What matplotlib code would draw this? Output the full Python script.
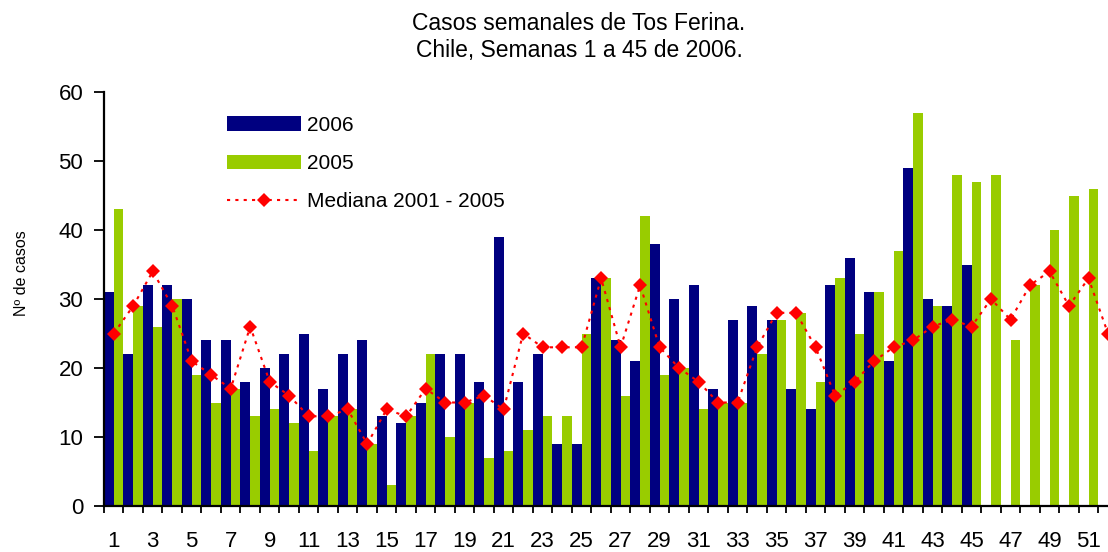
import matplotlib
matplotlib.use('Agg')
import matplotlib.pyplot as plt
from matplotlib.patches import Patch
from matplotlib.lines import Line2D
import numpy as np

plt.rcParams['font.family'] = ['Liberation Sans', 'DejaVu Sans']

# datos
semanas = list(range(1, 53))
casos_2006 = [31, 22, 32, 32, 30, 24, 24, 18, 20, 22, 25, 17, 22, 24, 13, 12, 15, 22, 22, 18,
              39, 18, 22, 9, 9, 33, 24, 21, 38, 30, 32, 17, 27, 29, 27, 17, 14, 32, 36, 31,
              21, 49, 30, 29, 35]
casos_2005 = [43, 29, 26, 30, 19, 15, 17, 13, 14, 12, 8, 13, 14, 9, 3, 13, 22, 10, 15, 7,
              8, 11, 13, 13, 25, 33, 16, 42, 19, 20, 14, 15, 15, 22, 27, 28, 18, 33, 25, 31,
              37, 57, 29, 48, 47, 48, 24, 32, 40, 45, 46]
mediana = [25, 29, 34, 29, 21, 19, 17, 26, 18, 16, 13, 13, 14, 9, 14, 13, 17, 15, 15, 16,
           14, 25, 23, 23, 23, 33, 23, 32, 23, 20, 18, 15, 15, 23, 28, 28, 23, 16, 18, 21,
           23, 24, 26, 27, 26, 30, 27, 32, 34, 29, 33, 25]
etiquetas_x = [str(s) for s in range(1, 52, 2)]

color_2006 = '#000080'
color_2005 = '#99CC00'
color_mediana = '#FF0000'

fig = plt.figure(figsize=(11.08, 5.52), dpi=100)
ax = fig.add_axes([104 / 1108, 1 - 506 / 552, 1 - 104 / 1108, (506 - 92) / 552])

x06 = np.arange(1, len(casos_2006) + 1)
x05 = np.arange(1, len(casos_2005) + 1)
ax.bar(x06 - 0.25, casos_2006, width=0.5, color=color_2006, linewidth=0)
ax.bar(x05 + 0.25, casos_2005, width=0.5, color=color_2005, linewidth=0)
ax.plot(semanas, mediana, color=color_mediana, linewidth=1.5, dashes=(1.5, 2.5),
        marker='D', markersize=7, markeredgewidth=0, zorder=3)

ax.set_xlim(0.5, 52.0)
ax.set_ylim(0, 60)
ax.set_yticks(range(0, 61, 10))
ax.tick_params(axis='y', direction='out', length=7, width=1.3, pad=8, labelsize=16)

# ticks en los limites de semana, etiquetas en el centro de semanas impares
ax.set_xticks(np.arange(0.5, 52.5, 1.0))
ax.set_xticklabels([])
ax.tick_params(axis='x', which='major', direction='out', length=5, width=1.3)
ax.set_xticks(range(1, 52, 2), minor=True)
ax.set_xticklabels(etiquetas_x, minor=True)
ax.tick_params(axis='x', which='minor', length=0, pad=18, labelsize=16)

for s in ['top', 'right']:
    ax.spines[s].set_visible(False)
ax.spines['left'].set_linewidth(1.6)
ax.spines['bottom'].set_linewidth(1.6)

fig.text(22 / 1108, 1 - 273 / 552, 'Nº de casos', rotation=90, ha='center', va='center',
         fontsize=11.5)
fig.text(579 / 1108, 1 - 23 / 552, 'Casos semanales de Tos Ferina.', ha='center',
         va='center', fontsize=16.5)
fig.text(579 / 1108, 1 - 51 / 552, 'Chile, Semanas 1 a 45 de 2006.', ha='center',
         va='center', fontsize=16.5)

handles = [Patch(color=color_2006, linewidth=0),
           Patch(color=color_2005, linewidth=0),
           Line2D([], [], color=color_mediana, linewidth=1.5, dashes=(1.5, 2.5),
                  marker='D', markersize=7, markeredgewidth=0)]
fig.legend(handles, ['2006', '2005', 'Mediana 2001 - 2005'], loc='upper left',
           bbox_to_anchor=(227 / 1108, 1 - 116 / 552), frameon=False, fontsize=15,
           handlelength=3.55, handleheight=0.7, handletextpad=0.3, labelspacing=0.92,
           borderpad=0, borderaxespad=0)

fig.savefig('out.png', dpi=100)
